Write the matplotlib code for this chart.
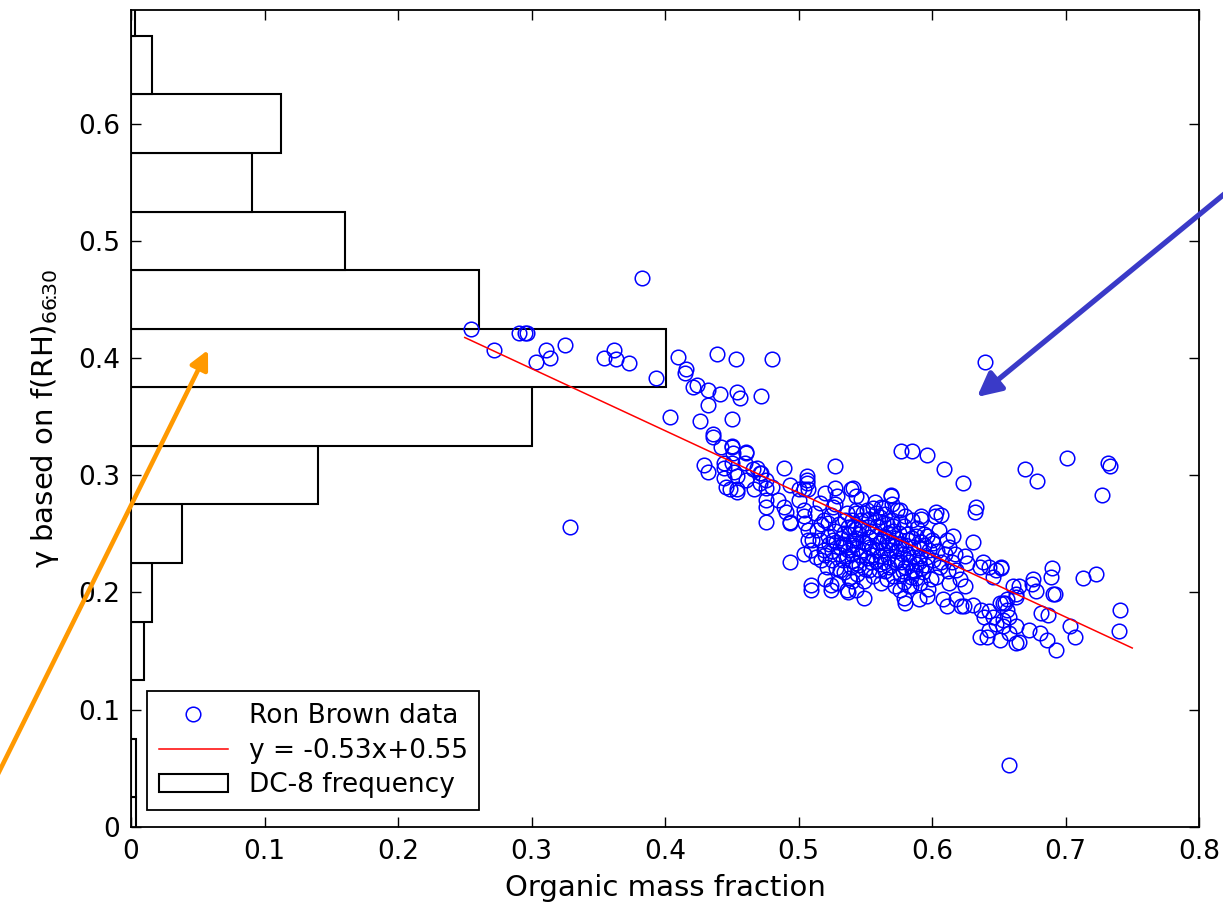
import matplotlib.pyplot as plt
import numpy as np

plt.rcParams['font.family'] = ['DejaVu Sans']

# DC-8 histogram (horizontal bars, bin width 0.05)
hist_centers = [0.0, 0.05, 0.10, 0.15, 0.20, 0.25, 0.30, 0.35, 0.40, 0.45, 0.50, 0.55, 0.60, 0.65, 0.70]
hist_freq = [0.004, 0.004, 0.0, 0.010, 0.016, 0.038, 0.140, 0.300, 0.401, 0.261, 0.160, 0.091, 0.112, 0.016, 0.003]

# fit line from the legend
fit_slope = -0.53
fit_intercept = 0.55
fit_range = [0.25, 0.75]

# Ron Brown data (organic mass fraction, gamma)
ron_upper = [(0.255, 0.425), (0.272, 0.407), (0.291, 0.421), (0.295, 0.421), (0.297, 0.421),
             (0.311, 0.407), (0.314, 0.400), (0.303, 0.397), (0.325, 0.411), (0.354, 0.400),
             (0.362, 0.407), (0.363, 0.399), (0.373, 0.396), (0.393, 0.383), (0.383, 0.468),
             (0.329, 0.256), (0.640, 0.397), (0.658, 0.053)]

ron_tail = [(0.404, 0.350), (0.410, 0.401), (0.416, 0.391), (0.415, 0.387), (0.424, 0.377),
            (0.421, 0.375), (0.432, 0.373), (0.439, 0.403), (0.453, 0.399), (0.480, 0.399),
            (0.441, 0.369), (0.454, 0.371), (0.456, 0.366), (0.472, 0.368), (0.432, 0.360),
            (0.426, 0.346), (0.450, 0.348), (0.436, 0.335), (0.442, 0.324), (0.450, 0.324),
            (0.461, 0.320), (0.429, 0.309), (0.432, 0.303), (0.444, 0.306), (0.452, 0.303),
            (0.446, 0.290), (0.454, 0.288), (0.466, 0.305), (0.471, 0.302), (0.476, 0.296),
            (0.489, 0.306), (0.476, 0.273), (0.476, 0.260), (0.494, 0.259), (0.494, 0.226),
            (0.509, 0.206), (0.506, 0.296), (0.504, 0.288), (0.436, 0.333), (0.450, 0.325),
            (0.451, 0.319), (0.461, 0.319), (0.444, 0.310), (0.450, 0.310), (0.444, 0.298),
            (0.454, 0.299), (0.454, 0.286), (0.449, 0.288), (0.460, 0.310), (0.469, 0.306),
            (0.472, 0.302), (0.471, 0.293), (0.467, 0.288), (0.476, 0.289), (0.480, 0.290),
            (0.461, 0.296), (0.476, 0.279), (0.485, 0.279), (0.489, 0.273), (0.491, 0.269),
            (0.494, 0.260), (0.494, 0.292), (0.500, 0.288), (0.506, 0.299), (0.506, 0.293),
            (0.507, 0.288), (0.504, 0.270), (0.504, 0.265), (0.505, 0.259), (0.507, 0.253),
            (0.500, 0.279), (0.504, 0.233), (0.507, 0.245), (0.509, 0.236), (0.514, 0.253),
            (0.516, 0.245), (0.519, 0.236), (0.517, 0.228), (0.521, 0.222), (0.524, 0.266),
            (0.526, 0.273), (0.529, 0.282), (0.522, 0.259), (0.527, 0.308), (0.527, 0.289),
            (0.520, 0.211), (0.529, 0.208), (0.536, 0.202), (0.526, 0.245), (0.531, 0.239),
            (0.534, 0.251), (0.536, 0.231), (0.541, 0.245), (0.539, 0.222), (0.531, 0.219),
            (0.543, 0.225), (0.541, 0.256), (0.536, 0.268), (0.543, 0.268), (0.539, 0.288),
            (0.543, 0.282)]

ron_mid = [(0.577, 0.321), (0.585, 0.321), (0.596, 0.317), (0.609, 0.305), (0.623, 0.293),
           (0.633, 0.273), (0.632, 0.269), (0.541, 0.289), (0.547, 0.280), (0.543, 0.270),
           (0.540, 0.262), (0.556, 0.272), (0.562, 0.273), (0.569, 0.283), (0.570, 0.275),
           (0.576, 0.270), (0.592, 0.263), (0.603, 0.269), (0.607, 0.266), (0.605, 0.253),
           (0.596, 0.248), (0.601, 0.242), (0.611, 0.245), (0.616, 0.248), (0.613, 0.239),
           (0.617, 0.233), (0.631, 0.243), (0.625, 0.231), (0.626, 0.225), (0.638, 0.226),
           (0.636, 0.222), (0.643, 0.222), (0.648, 0.219), (0.652, 0.222), (0.646, 0.213),
           (0.606, 0.222), (0.603, 0.213), (0.613, 0.208), (0.621, 0.211), (0.625, 0.205),
           (0.543, 0.202), (0.549, 0.195), (0.580, 0.191), (0.590, 0.194), (0.584, 0.205),
           (0.576, 0.202), (0.611, 0.188), (0.608, 0.194), (0.618, 0.194), (0.622, 0.188),
           (0.631, 0.189), (0.637, 0.185), (0.643, 0.184), (0.651, 0.191), (0.656, 0.194),
           (0.661, 0.205), (0.663, 0.196), (0.509, 0.202), (0.524, 0.202), (0.537, 0.200),
           (0.579, 0.195), (0.596, 0.197), (0.624, 0.188), (0.639, 0.179), (0.636, 0.162),
           (0.643, 0.168), (0.648, 0.173), (0.653, 0.176), (0.658, 0.165), (0.651, 0.159),
           (0.663, 0.157), (0.663, 0.171), (0.653, 0.191), (0.641, 0.162), (0.646, 0.179),
           (0.656, 0.185), (0.524, 0.206), (0.602, 0.265), (0.592, 0.265), (0.569, 0.282)]

ron_right = [(0.670, 0.305), (0.679, 0.295), (0.701, 0.315), (0.733, 0.308), (0.732, 0.310),
             (0.727, 0.283), (0.690, 0.221), (0.689, 0.213), (0.713, 0.212), (0.723, 0.216),
             (0.741, 0.185), (0.740, 0.167), (0.693, 0.151), (0.707, 0.162), (0.703, 0.171),
             (0.692, 0.199), (0.675, 0.207), (0.678, 0.201), (0.665, 0.205), (0.663, 0.199),
             (0.673, 0.168), (0.681, 0.165), (0.686, 0.159), (0.665, 0.158), (0.682, 0.182),
             (0.687, 0.181), (0.652, 0.221), (0.655, 0.191), (0.658, 0.179), (0.653, 0.171),
             (0.676, 0.211), (0.691, 0.199)]

ron_core = [(0.545, 0.250), (0.548, 0.243), (0.552, 0.256), (0.555, 0.238), (0.558, 0.248),
            (0.561, 0.231), (0.563, 0.259), (0.566, 0.244), (0.569, 0.236), (0.571, 0.252),
            (0.574, 0.228), (0.577, 0.241), (0.579, 0.257), (0.582, 0.233), (0.585, 0.246),
            (0.588, 0.224), (0.590, 0.238), (0.593, 0.217), (0.596, 0.230), (0.599, 0.211),
            (0.547, 0.262), (0.551, 0.270), (0.554, 0.226), (0.557, 0.262), (0.560, 0.219),
            (0.562, 0.244), (0.565, 0.267), (0.568, 0.222), (0.570, 0.262), (0.573, 0.246),
            (0.576, 0.216), (0.578, 0.233), (0.581, 0.250), (0.584, 0.213), (0.586, 0.230),
            (0.589, 0.255), (0.592, 0.243), (0.595, 0.223), (0.598, 0.236), (0.601, 0.228),
            (0.537, 0.236), (0.540, 0.227), (0.542, 0.254), (0.544, 0.216), (0.546, 0.232),
            (0.549, 0.210), (0.553, 0.247), (0.556, 0.214), (0.559, 0.236), (0.562, 0.208),
            (0.564, 0.226), (0.567, 0.251), (0.572, 0.205), (0.575, 0.238), (0.580, 0.222),
            (0.583, 0.205), (0.587, 0.218), (0.591, 0.208), (0.594, 0.250), (0.597, 0.203),
            (0.530, 0.258), (0.533, 0.228), (0.535, 0.262), (0.538, 0.212), (0.541, 0.240),
            (0.550, 0.220), (0.557, 0.277), (0.563, 0.272), (0.566, 0.211), (0.574, 0.270),
            (0.580, 0.265), (0.585, 0.262), (0.590, 0.226), (0.600, 0.245), (0.604, 0.235),
            (0.607, 0.226), (0.610, 0.233), (0.612, 0.218), (0.615, 0.226), (0.618, 0.219),
            (0.519, 0.262), (0.522, 0.248), (0.525, 0.235), (0.528, 0.221), (0.512, 0.268),
            (0.516, 0.276), (0.520, 0.285), (0.510, 0.245), (0.513, 0.230), (0.527, 0.275)]

ron_core2 = [(0.532, 0.246), (0.535, 0.240), (0.538, 0.250), (0.540, 0.233), (0.543, 0.246),
             (0.545, 0.223), (0.548, 0.236), (0.551, 0.229), (0.553, 0.239), (0.555, 0.252),
             (0.558, 0.227), (0.560, 0.242), (0.563, 0.236), (0.565, 0.218), (0.567, 0.230),
             (0.570, 0.243), (0.572, 0.226), (0.575, 0.251), (0.578, 0.218), (0.580, 0.240),
             (0.583, 0.226), (0.586, 0.239), (0.588, 0.212), (0.591, 0.231), (0.594, 0.240),
             (0.534, 0.217), (0.537, 0.256), (0.540, 0.210), (0.544, 0.238), (0.547, 0.255),
             (0.550, 0.242), (0.553, 0.219), (0.556, 0.232), (0.559, 0.257), (0.561, 0.224),
             (0.564, 0.248), (0.568, 0.240), (0.571, 0.214), (0.573, 0.235), (0.577, 0.226),
             (0.579, 0.209), (0.582, 0.245), (0.585, 0.219), (0.588, 0.248), (0.592, 0.221),
             (0.548, 0.268), (0.553, 0.263), (0.558, 0.268), (0.561, 0.264), (0.566, 0.258),
             (0.571, 0.257), (0.576, 0.260), (0.520, 0.232), (0.523, 0.241), (0.527, 0.252),
             (0.530, 0.233), (0.533, 0.241), (0.517, 0.258), (0.525, 0.228), (0.528, 0.243)]

tick_x = [0, 0.1, 0.2, 0.3, 0.4, 0.5, 0.6, 0.7, 0.8]
tick_x_labels = ['0', '0.1', '0.2', '0.3', '0.4', '0.5', '0.6', '0.7', '0.8']
tick_y = [0, 0.1, 0.2, 0.3, 0.4, 0.5, 0.6]
tick_y_labels = ['0', '0.1', '0.2', '0.3', '0.4', '0.5', '0.6']

W, H = 1223, 911
fig = plt.figure(figsize=(W / 100, H / 100), dpi=100)
ax = fig.add_axes([131 / W, (H - 826.7) / H, (1199 - 131) / W, (826.7 - 10) / H])

bars = ax.barh(hist_centers, hist_freq, height=0.05, color='white', edgecolor='black',
               linewidth=1.5, zorder=1)

pts = np.array(ron_upper + ron_tail + ron_mid + ron_right + ron_core + ron_core2)
dots, = ax.plot(pts[:, 0], pts[:, 1], 'o', mfc='none', mec='blue', ms=10.5, mew=1.1, zorder=3)

xf = np.array(fit_range)
fit, = ax.plot(xf, fit_slope * xf + fit_intercept, color='red', lw=1.1, zorder=4)

ax.set_xlim(0, 0.8)
ax.set_ylim(0, 0.697)
ax.set_xticks(tick_x)
ax.set_xticklabels(tick_x_labels)
ax.set_yticks(tick_y)
ax.set_yticklabels(tick_y_labels)
ax.tick_params(direction='in', length=7, width=1, top=True, right=True, labelsize=19)
ax.tick_params(axis='x', pad=9)
ax.tick_params(axis='y', pad=8)
for s in ax.spines.values():
    s.set_linewidth(1.3)

ax.set_xlabel('Organic mass fraction', fontsize=21, labelpad=6)
ax.set_ylabel('γ based on f(RH)$_{\\mathregular{66\\!\\!:\\!\\!30}}$', fontsize=21, labelpad=12)

leg = ax.legend([dots, fit, bars], ['Ron Brown data', 'y = -0.53x+0.55', 'DC-8 frequency'],
                loc='lower left', bbox_to_anchor=(0.015, 0.02), borderaxespad=0,
                fontsize=19, fancybox=False, framealpha=1, edgecolor='black',
                handlelength=2.6, handletextpad=0.8, labelspacing=0.33, borderpad=0.45)
leg.get_frame().set_linewidth(1.3)

# annotation arrows drawn over the figure
ax.annotate('', xy=(208, H - 350), xycoords='figure pixels',
            xytext=(-3, H - 776), textcoords='figure pixels',
            arrowprops=dict(arrowstyle='-|>,head_length=0.7,head_width=0.35', color='#FF9900',
                            lw=3.3, mutation_scale=16, shrinkA=0, shrinkB=0),
            annotation_clip=False)
ax.annotate('', xy=(977, H - 397), xycoords='figure pixels',
            xytext=(1228, H - 191), textcoords='figure pixels',
            arrowprops=dict(arrowstyle='-|>,head_length=0.8,head_width=0.4', color='#3A3AC8',
                            lw=3.8, mutation_scale=18, shrinkA=0, shrinkB=0),
            annotation_clip=False)

fig.savefig('out.png', dpi=100)
